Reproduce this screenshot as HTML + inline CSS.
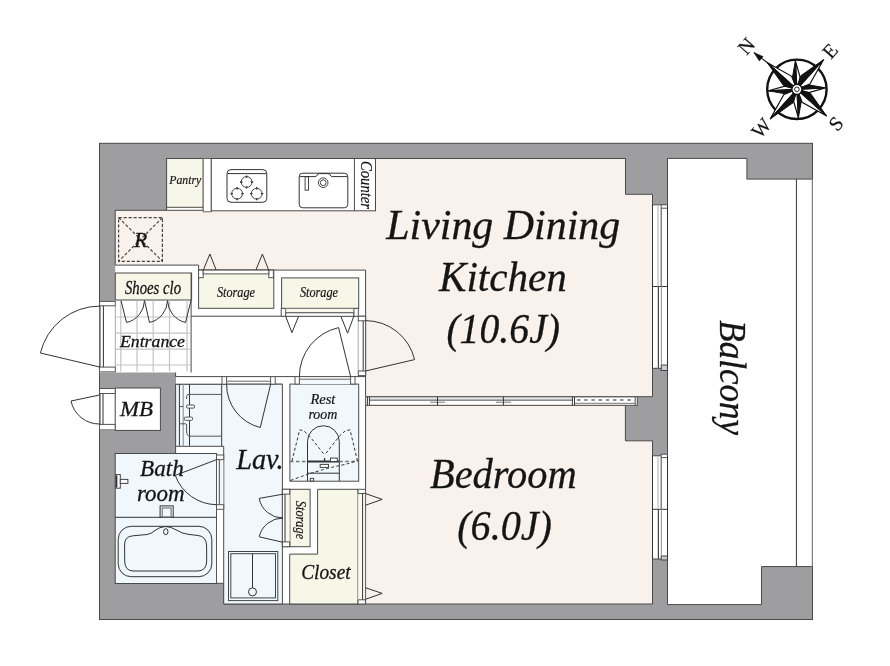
<!DOCTYPE html>
<html><head><meta charset="utf-8">
<style>
html,body{margin:0;padding:0;background:#fff;width:890px;height:666px;overflow:hidden}
svg{display:block;will-change:transform}
text{font-family:"Liberation Serif",serif;font-style:italic;fill:#151515}
</style></head><body>
<svg width="890" height="666" viewBox="0 0 890 666">
<g id="walls" stroke="#4a4a4a" stroke-width="1">
  <rect x="99.5" y="143.3" width="713" height="476.2" fill="#9e9ea0"/>
  <polygon points="115.2,265 365.7,265 365.7,604 175.6,604 175.6,372.5 115.2,372.5" fill="#fff" stroke="none"/>
  <rect x="115.2" y="583.5" width="108.5" height="20.5" fill="#9e9ea0" stroke="none"/>
  <path d="M175.6,372.5 V453.5 M216.5,583.3 H223.7 V604 H365" fill="none"/>
  <!-- entrance frame gap -->
  <rect x="99.5" y="301.4" width="16" height="71.2" fill="#fff" stroke="none"/>
  <rect x="99.5" y="388" width="16" height="42.4" fill="#fff" stroke="none"/>
  <!-- LDK -->
  <polygon points="115.2,210.3 166.6,210.3 166.6,158.5 625.5,158.5 625.5,194.3 652.5,194.3 652.5,396.7 365.6,396.7 365.6,270.1 198.6,270.1 198.6,265.1 115.2,265.1" fill="#f9f1ec"/>
  <!-- Bedroom -->
  <polygon points="365.6,405.3 625.4,405.3 625.4,440.8 652.5,440.8 652.5,604 365.6,604" fill="#f9f1ec"/>
  <!-- Balcony -->
  <polygon points="667.5,158.4 746.9,158.4 746.9,179.1 812.4,179.1 812.4,566.6 761.5,566.6 761.5,604.6 667.5,604.6" fill="#fff"/>
  <!-- window areas -->
  <rect x="652.5" y="204.8" width="15" height="163.5" fill="#fff"/>
  <rect x="652.5" y="455.8" width="15" height="103.2" fill="#fff"/>
  <!-- pantry / counter -->
  <rect x="166.6" y="158.5" width="36.6" height="51.8" fill="#fff"/>
  <rect x="166.6" y="158.5" width="36.6" height="48.8" fill="#f7f7e9"/>
  <rect x="203.2" y="158.5" width="8.1" height="53.3" fill="#fff" stroke="#666"/>
  <rect x="211.3" y="158.5" width="164.2" height="52.3" fill="#fff"/>
  <line x1="354.4" y1="158.5" x2="354.4" y2="210.8"/>
  <!-- shoes clo -->
  <rect x="115.3" y="273" width="76.3" height="27" fill="#f7f7e8"/>
  <!-- storage 1 & 2 -->
  <rect x="198.6" y="270.1" width="75.2" height="38.2" fill="#f7f7e8"/>
  <rect x="281.6" y="277.9" width="77.1" height="30.5" fill="#f7f7e8"/>
  <path d="M115.3,305.8 V367.1" fill="none" stroke="#aaa"/>
  <path d="M191.1,273 V372.5 M191.1,316.2 H365.6" fill="none"/>
  <!-- MB -->
  <rect x="115.2" y="388" width="45.2" height="42.4" fill="#fff"/>
  <!-- washer area -->
  <rect x="175.6" y="384.2" width="46.2" height="62.1" fill="#f0f7fd"/>
  <rect x="175.6" y="376.6" width="183" height="7.6" fill="#fff" stroke="none"/>
  <path d="M175.6,376.6 H365.6 M175.6,384.2 H282.2"/>
  <!-- Lav -->
  <polygon points="221.7,384.2 282.4,384.2 282.4,604 223.7,604 223.7,446.3 221.7,446.3" fill="#f0f7fd"/>
  <!-- Bath -->
  <rect x="115.2" y="453.5" width="101.3" height="130" fill="#f0f7fd"/>
  <!-- Rest room -->
  <rect x="289.9" y="384.1" width="68.8" height="97.1" fill="#f0f7fd"/>
  <!-- storage vertical -->
  <rect x="289.7" y="489.3" width="20.4" height="57.4" fill="#f7f7e8"/>
  <!-- closet -->
  <polygon points="317.6,489.3 358,489.3 358,604 289.7,604 289.7,554.1 317.6,554.1" fill="#f7f7e8"/>
</g>

<g id="details" fill="none" stroke="#333" stroke-width="1">
  <!-- tile grid -->
  <g stroke="#c4c4c4" stroke-width="1.2">
    <path d="M120.8,300.5 V371.5 M137,300.5 V371.5 M153.2,300.5 V371.5 M169.5,300.5 V371.5 M187,300.5 V371.5 M115.5,317 H191 M115.5,333.2 H191 M115.5,349.2 H191 M115.5,365 H191"/>
  </g>
  <!-- entrance frame -->
  <rect x="99.5" y="301.4" width="15.8" height="4.4" fill="#fff" stroke="#555"/>
  <rect x="99.5" y="367.1" width="15.8" height="4.8" fill="#fff" stroke="#555"/>
  <path d="M100,305.8 V367.1 M103.4,305.8 V367.1"/>
  <path d="M100,367.1 L40.4,353 A61,61 0 0 1 100,306.1"/>
  <!-- MB door -->
  <rect x="99.5" y="388.5" width="15.7" height="5" fill="#fff" stroke="#555"/>
  <rect x="99.5" y="424.4" width="15.7" height="5.5" fill="#fff" stroke="#555"/>
  <path d="M100,393.5 V424.4 M103,393.5 V424.4"/>
  <path d="M99.6,395 L71,401 A29,29 0 0 0 99.6,424"/>
  <!-- shoe closet doors -->
  <path d="M121,300.5 L126.5,322.5 A23,23 0 0 0 144.5,300.5 L149.5,322.5 A23,23 0 0 0 167.5,300.5 A23.5,23.5 0 0 0 185.5,322.5 L191,300.5"/>
  <!-- storage 1 doors (into LDK) -->
  <rect x="198.6" y="270.1" width="4.6" height="7.6" fill="#fff" stroke="#555"/>
  <rect x="268.8" y="270.1" width="4.6" height="7.6" fill="#fff" stroke="#555"/>
  <rect x="203.2" y="270.1" width="65.6" height="3.8" fill="#fff" stroke="#555"/>
  <path d="M203.3,270.1 L209.9,254 L216.2,270.1 M255.9,270.1 L262.4,254 L268.7,270.1"/>
  <!-- storage 2 doors (into corridor) -->
  <rect x="281.2" y="308.4" width="4.5" height="7.9" fill="#fff" stroke="#555"/>
  <rect x="353.8" y="308.4" width="4.5" height="7.9" fill="#fff" stroke="#555"/>
  <rect x="285.7" y="308.4" width="68.1" height="4.4" fill="#f9f9ee" stroke="#777"/>
  <rect x="285.7" y="312.8" width="68.1" height="3.5" fill="#fff" stroke="#555"/>
  <path d="M285.7,316.3 L291.9,332.7 L298.6,316.3 M340.9,316.3 L347.6,333.2 L353.8,316.3"/>
  <!-- LDK door -->
  <rect x="358.3" y="316.3" width="7.3" height="59.3" fill="#fff" stroke="none"/>
  <line x1="358.2" y1="320.8" x2="358.2" y2="371" stroke="#aaa"/>
  <line x1="365.6" y1="316.3" x2="365.6" y2="376" stroke="#555"/>
  <rect x="358.3" y="316.3" width="7.3" height="4.5" fill="#fff" stroke="#555"/>
  <rect x="358.3" y="371" width="7.3" height="4.6" fill="#fff" stroke="#555"/>
  <line x1="363.2" y1="320.8" x2="363.2" y2="371"/>
  <path d="M365.5,371 L414.6,359.6 A50.5,50.5 0 0 0 365.5,320.6"/>
  <!-- rest room door -->
  <rect x="299.4" y="379.2" width="51.2" height="4.9" fill="#f0f7fd" stroke="none"/>
  <line x1="299.4" y1="379.2" x2="350.6" y2="379.2" stroke="#666"/>
  <rect x="295" y="376.6" width="4.4" height="7.5" fill="#fff" stroke="#555"/>
  <rect x="350.6" y="376.6" width="4.4" height="7.5" fill="#fff" stroke="#555"/>
  
  <path d="M350.6,376.6 L338.6,327.6 A50,50 0 0 0 299.4,376.6"/>
  <!-- lav door -->
  <rect x="222" y="376.6" width="4.6" height="7.6" fill="#fff" stroke="#555"/>
  <rect x="270.6" y="376.6" width="4.6" height="7.6" fill="#fff" stroke="#555"/>
  <line x1="226.6" y1="381.2" x2="270.6" y2="381.2" stroke="#666"/>
  <path d="M270.6,384.3 L260.3,427.5 A44,44 0 0 1 226.6,384.3"/>
  <!-- bath door -->
  <rect x="216.5" y="455" width="7.2" height="54.3" fill="#fff" stroke="none"/>
  <rect x="219.3" y="459.6" width="4.4" height="45.1" fill="#f0f7fd" stroke="none"/>
  <line x1="216.5" y1="453.5" x2="216.5" y2="583.5" stroke="#555"/>
  <line x1="223.7" y1="455" x2="223.7" y2="509.3" stroke="#999"/>
  <rect x="216.5" y="455" width="7.2" height="4.6" fill="#fff" stroke="#555"/>
  <rect x="216.5" y="504.7" width="7.2" height="4.6" fill="#fff" stroke="#555"/>
  <line x1="219.3" y1="459.6" x2="219.3" y2="504.7" stroke="#444"/>
  <path d="M216.7,459.6 L175.3,475.4 A44.5,44.5 0 0 0 216.7,504.7"/>
  <!-- storage vertical doors -->
  <rect x="282.4" y="489.3" width="7.3" height="57.4" fill="#fff" stroke="#555"/>
  <rect x="285" y="494.1" width="4.7" height="47.8" fill="#f9f9ee" stroke="none"/>
  <rect x="282.4" y="489.3" width="7.3" height="4.8" fill="#fff" stroke="#555"/>
  <rect x="282.4" y="541.9" width="7.3" height="4.8" fill="#fff" stroke="#555"/>
  <line x1="285" y1="494.1" x2="285" y2="541.9"/>
  <path d="M283,494.2 L259.2,498.4 A24,24 0 0 0 283,518 M283,542.3 L259.2,536.8 A24.3,24.3 0 0 1 283,518"/>
  <!-- closet doors -->
  <rect x="358" y="489.3" width="7.4" height="114.7" fill="#fff" stroke="none"/>
  <line x1="365.4" y1="489.3" x2="365.4" y2="604" stroke="#666"/>
  <rect x="358" y="493.5" width="4.6" height="106.3" fill="#f9f9ee" stroke="none"/>
  <rect x="358" y="489.3" width="7.4" height="4.2" fill="#fff" stroke="#555"/>
  <rect x="358" y="599.8" width="7.4" height="4.2" fill="#fff" stroke="#555"/>
  <line x1="362.6" y1="493.5" x2="362.6" y2="599.8"/>
  <line x1="357.8" y1="493.5" x2="357.8" y2="599.8" stroke="#aaa"/>
  <path d="M365.4,493.5 L382.2,499.4 L365.4,505.3 M365.4,587.7 L382.2,593.4 L365.4,599.3"/>
  <!-- partition -->
  <rect x="365.6" y="396.9" width="271.7" height="8.4" fill="#fff" stroke="#555"/>
  <path d="M369.4,400.1 H572.4" stroke="#666" stroke-width="1.2"/>
  <path d="M369.4,398.1 H572.4" stroke="#ccc" stroke-width="0.8"/>
  <path d="M430,402.2 H445 M496,402.2 H511" stroke="#777" stroke-width="1"/>
  <path d="M367.4,396.9 V405.3 M369.4,396.9 V405.3 M437.5,396.9 V405.3 M503.4,396.9 V405.3 M572.4,396.9 V405.3 M574.5,396.9 V405.3"/>
  <path d="M577,400.1 H635" stroke="#6a6a6a" stroke-width="1.5" stroke-dasharray="3.4,3.8"/>
  <path d="M574.5,403.3 H635" stroke="#777" stroke-width="1"/>
  <rect x="635.2" y="396.9" width="2.1" height="8.4" fill="#fff" stroke="#555"/>
  <!-- LDK window -->
  <rect x="661.2" y="204.8" width="6.3" height="3.4" fill="#fff" stroke="#555"/>
  <rect x="661.2" y="365" width="6.3" height="5.5" fill="#ccc" stroke="#444"/>
  <path d="M652.5,204.8 V368.3 M667.5,204.8 V368.3 M652.5,286.5 H667.5"/>
  <path d="M658,204.8 V286.5" stroke="#bbb" stroke-width="1.2"/>
  <path d="M661.2,208.2 V286.5" stroke="#666" stroke-width="1.2"/>
  <path d="M658.4,286.5 V368.3" stroke="#444" stroke-width="1.2"/>
  <path d="M661.4,286.5 V365" stroke="#999" stroke-width="1.1"/>
  <!-- bedroom window -->
  <rect x="661.2" y="454.2" width="6.3" height="3.4" fill="#fff" stroke="#555"/>
  <rect x="661.2" y="556" width="6.3" height="4" fill="#ccc" stroke="#444"/>
  <path d="M652.5,455.8 V559 M667.5,455.8 V559 M652.5,509.3 H667.5"/>
  <path d="M658,457 V509.3" stroke="#bbb" stroke-width="1.2"/>
  <path d="M661.2,457.6 V509.3" stroke="#666" stroke-width="1.2"/>
  <path d="M658.4,509.3 V559" stroke="#444" stroke-width="1.2"/>
  <path d="M661.4,509.3 V556" stroke="#999" stroke-width="1.1"/>
  <!-- balcony rail -->
  <path d="M796.4,179.1 V566.6" stroke="#333"/>
  <path d="M812.4,179.1 V566.6" stroke="#888"/>
</g>

<g id="fixtures" fill="none" stroke="#333" stroke-width="1">
  <!-- cooktop -->
  <rect x="227" y="169.6" width="39.8" height="32.7" rx="4"/>
  <path d="M227.3,173.6 H266.5"/>
  <g stroke-width="0.9">
    <circle cx="246.6" cy="182" r="5.4"/>
    <circle cx="237.1" cy="193.7" r="5.4"/>
    <circle cx="256.7" cy="193.7" r="5.4"/>
  </g>
  <path d="M246.6,175.4 v2.4 M246.6,186.2 v2.4 M240.0,182.0 h2.4 M250.8,182.0 h2.4 M237.1,187.1 v2.4 M237.1,197.9 v2.4 M230.5,193.7 h2.4 M241.3,193.7 h2.4 M256.7,187.1 v2.4 M256.7,197.9 v2.4 M250.1,193.7 h2.4 M260.9,193.7 h2.4" stroke-width="1.3"/>
  <!-- sink -->
  <rect x="299.2" y="173.2" width="48.6" height="34.6" rx="3.5"/>
  <path d="M299.5,176.6 H315.2 Q316.6,176.6 317.2,175 Q317.8,173.6 319.4,173.6 H328 Q329.6,173.6 330.2,175 Q330.8,176.6 332.2,176.6 H347.5" stroke-width="1"/>
  <rect x="305.1" y="176.7" width="3.4" height="13.5" stroke-width="0.9"/>
  <circle cx="323.2" cy="182.7" r="4.8" stroke-width="0.9"/>
  <circle cx="323.2" cy="182.7" r="2.9" stroke-width="0.9"/>
  <!-- R box -->
  <g stroke="#444" stroke-width="1.2" stroke-dasharray="3.1,1.9">
    <rect x="118.6" y="217.6" width="43.8" height="43.7"/>
    <path d="M118.6,217.6 L162.4,261.3 M162.4,217.6 L118.6,261.3"/>
  </g>
  <!-- washer -->
  <path d="M179.4,384.3 V445.8 M189.5,384.3 V445.8"/>
  <path d="M183.2,384.3 V445.8" stroke="#888"/>
  <path d="M186.6,399 V396.5 Q186.6,394.4 189,394.4 H221.5 M186.6,424 L186.6,432 Q187,436.2 190,436.2 H221.5" stroke="#555"/>
  <rect x="186.6" y="405" width="7.9" height="3.1" rx="1" fill="#fff" stroke="#555"/>
  <rect x="184.4" y="417.1" width="8.1" height="3.2" rx="1" fill="#fff" stroke="#555"/>
  <path d="M179.4,406.5 H183.2 M179.4,423.8 H186" stroke="#555"/>
  <!-- bath faucet -->
  <rect x="115.8" y="474.6" width="4.5" height="13.6" fill="#fff" stroke="#444"/>
  <rect x="120.3" y="479.4" width="7.6" height="4" fill="#fff" stroke="#444"/>
  <path d="M116.6,475.5 V487.5" stroke="#333" stroke-width="1.5"/>
  <!-- bath divider -->
  <path d="M115.2,517.3 H216.5"/>
  <rect x="160.1" y="505.9" width="13.1" height="11.4"/>
  <rect x="162.2" y="508" width="8.9" height="9.3" stroke="#666"/>
  <!-- tub -->
  <rect x="118.2" y="526.3" width="93.6" height="50.4" rx="13"/>
  <path d="M124.6,546 Q124,536.3 133,535.8 L147,534.5 Q151,534 155,530.5 Q159.5,526.8 165.5,526.5 Q171,526.8 176,529.8 Q182,533.6 188,534.3 L198,535.5 Q206.5,536.3 206.6,546 L206.7,561 Q206.6,570.6 198,571 L133,571 Q124.7,570.6 124.7,561 Z"/>
  <ellipse cx="165.8" cy="531.7" rx="2.2" ry="3"/>
  <!-- shower tray -->
  <rect x="228.5" y="551.5" width="49.3" height="49.1" stroke="#444"/>
  <rect x="230.8" y="553.7" width="44.7" height="44.2" stroke="#444"/>
  <path d="M252.5,553.7 V587.8"/>
  <circle cx="252.5" cy="591.9" r="4"/>
  <!-- toilet -->
  <path d="M307.5,481 V441.6 A15.9,15.9 0 0 1 339.3,441.6 V481"/>
  <path d="M307.5,473.2 H339.3"/>
  <path d="M307.5,461.5 H339.3" stroke-width="2"/>
  <path d="M290,461.5 H307.5 M339.3,461.5 H358" stroke="#777" stroke-width="1.5" stroke-dasharray="3.5,2.5"/>
  <rect x="330.5" y="458.1" width="6.8" height="3.4" fill="#fff" stroke="#444"/>
  <rect x="320.2" y="464.4" width="8.3" height="3" fill="#fff" stroke="#444"/>
  <rect x="310.3" y="478.4" width="3.3" height="2.6" fill="#fff" stroke="#444"/>
  <path d="M324.6,458 V461.5" stroke-width="1.3"/>
  <g stroke="#333" stroke-dasharray="3,2.3" stroke-width="1">
    <path d="M292,461 L299.7,429.8 L304,431 L309,435.5 L324.6,455"/>
    <path d="M357.5,461 L350,429.8 L345,431 L339.5,436 L324.6,455"/>
    <path d="M290.5,480.5 Q318,470 340,465.5 Q352,463 358,460"/>
  </g>
</g>
<g id="compass">
<circle cx="796.90" cy="89.30" r="29.7" fill="#fff" stroke="#111" stroke-width="2.4"/>
<path d="M796.90,89.30 L795.41,60.84 L800.14,77.23 Z M796.90,89.30 L823.67,59.57 L809.88,84.06 Z M796.90,89.30 L825.36,87.81 L808.97,92.54 Z M796.90,89.30 L826.63,116.07 L802.14,102.28 Z M796.90,89.30 L798.39,117.76 L793.66,101.37 Z M796.90,89.30 L770.13,119.03 L783.92,94.54 Z M796.90,89.30 L768.44,90.79 L784.83,86.06 Z M796.90,89.30 L767.17,62.53 L791.66,76.32 Z" fill="#fff" stroke="#111" stroke-width="1.2" stroke-linejoin="miter"/>
<path d="M796.90,89.30 L792.42,77.63 L795.41,60.84 Z M796.90,89.30 L800.76,75.84 L823.67,59.57 Z M796.90,89.30 L808.57,84.82 L825.36,87.81 Z M796.90,89.30 L810.36,93.16 L826.63,116.07 Z M796.90,89.30 L801.38,100.97 L798.39,117.76 Z M796.90,89.30 L793.04,102.76 L770.13,119.03 Z M796.90,89.30 L785.23,93.78 L768.44,90.79 Z M796.90,89.30 L783.44,85.44 L767.17,62.53 Z" fill="#111" stroke="#111" stroke-width="1"/>
<line x1="767.17" y1="62.53" x2="753.94" y2="52.61" stroke="#111" stroke-width="1.1"/>
<path d="M753.94,52.61 L759.31,61.08 L763.15,56.59 Z" fill="#111" stroke="#111" stroke-width="0.5"/>
<circle cx="796.90" cy="89.30" r="5.1" fill="#fff" stroke="#111" stroke-width="1.5"/>
<circle cx="796.90" cy="89.30" r="2.3" fill="#fff" stroke="#111" stroke-width="0.9"/>
<text x="0" y="0" transform="translate(746.2,46.0) rotate(-48)" text-anchor="middle" dominant-baseline="central" style="font-style:normal;font-size:20px;stroke:#111;stroke-width:0.15">N</text>
<text x="0" y="0" transform="translate(830.0,50.9) rotate(-48)" text-anchor="middle" dominant-baseline="central" style="font-style:normal;font-size:20px;stroke:#111;stroke-width:0.15">E</text>
<text x="0" y="0" transform="translate(761.0,127.8) rotate(-48)" text-anchor="middle" dominant-baseline="central" style="font-style:normal;font-size:20px;stroke:#111;stroke-width:0.15">W</text>
<text x="0" y="0" transform="translate(835.7,123.4) rotate(-48)" text-anchor="middle" dominant-baseline="central" style="font-style:normal;font-size:20px;stroke:#111;stroke-width:0.15">S</text>
</g>

<g id="labels">
  <text id="t_pantry" x="169.3" y="183.7" font-size="13" textLength="32" lengthAdjust="spacingAndGlyphs" style="stroke:#151515;stroke-width:0.2">Pantry</text>
  <text id="t_counter" transform="translate(360.8,161) rotate(90)" x="0" y="0" font-size="16.5" textLength="48" lengthAdjust="spacingAndGlyphs" style="stroke:#151515;stroke-width:0.2">Counter</text>
  <text id="t_r" x="134.3" y="247.3" font-size="20" textLength="13" lengthAdjust="spacingAndGlyphs" style="stroke:#151515;stroke-width:0.35">R</text>
  <text id="t_shoes" x="125" y="293.9" font-size="18" textLength="56" lengthAdjust="spacingAndGlyphs" style="stroke:#151515;stroke-width:0.3">Shoes clo</text>
  <text id="t_st1" x="217" y="296.8" font-size="14.5" textLength="38" lengthAdjust="spacingAndGlyphs" style="stroke:#151515;stroke-width:0.2">Storage</text>
  <text id="t_st2" x="300" y="296.8" font-size="14.5" textLength="38" lengthAdjust="spacingAndGlyphs" style="stroke:#151515;stroke-width:0.2">Storage</text>
  <text id="t_entr" x="120" y="346.6" font-size="17.5" textLength="65" lengthAdjust="spacingAndGlyphs" style="stroke:#151515;stroke-width:0.3">Entrance</text>
  <text id="t_mb" x="120" y="415.6" font-size="20.5" textLength="33" lengthAdjust="spacingAndGlyphs" style="stroke:#151515;stroke-width:0.3">MB</text>
  <text id="t_bath" x="140" y="476.1" font-size="22.5" textLength="43.7" lengthAdjust="spacingAndGlyphs" style="stroke:#151515;stroke-width:0.3">Bath</text>
  <text id="t_room1" x="137" y="501" font-size="22.5" textLength="47.6" lengthAdjust="spacingAndGlyphs" style="stroke:#151515;stroke-width:0.3">room</text>
  <text id="t_lav" x="236.2" y="469.1" font-size="29" textLength="47.5" lengthAdjust="spacingAndGlyphs" style="stroke:#151515;stroke-width:0.3">Lav.</text>
  <text id="t_rest" x="310.4" y="404.3" font-size="15" textLength="25" lengthAdjust="spacingAndGlyphs" style="stroke:#151515;stroke-width:0.2">Rest</text>
  <text id="t_room2" x="308.4" y="419.2" font-size="14.5" textLength="29" lengthAdjust="spacingAndGlyphs" style="stroke:#151515;stroke-width:0.2">room</text>
  <text id="t_st3" transform="translate(296,500.8) rotate(90)" x="0" y="0" font-size="14.5" textLength="38.3" lengthAdjust="spacingAndGlyphs" style="stroke:#151515;stroke-width:0.2">Storage</text>
  <text id="t_closet" x="301.2" y="578.9" font-size="21.5" textLength="49.4" lengthAdjust="spacingAndGlyphs" style="stroke:#151515;stroke-width:0.3">Closet</text>
  <text id="t_balc" transform="translate(720.4,320.3) rotate(90)" x="0" y="0" font-size="37.5" textLength="114.8" lengthAdjust="spacingAndGlyphs" style="stroke:#151515;stroke-width:0.3">Balcony</text>
  <text id="t_ldk1" x="386.2" y="238.5" font-size="42" textLength="234" lengthAdjust="spacingAndGlyphs" style="stroke:#151515;stroke-width:0.3">Living Dining</text>
  <text id="t_ldk2" x="439" y="290.5" font-size="42" textLength="127.8" lengthAdjust="spacingAndGlyphs" style="stroke:#151515;stroke-width:0.3">Kitchen</text>
  <text id="t_ldk3" x="446.4" y="342.5" font-size="42" textLength="113.6" lengthAdjust="spacingAndGlyphs" style="stroke:#151515;stroke-width:0.3">(10.6J)</text>
  <text id="t_bed1" x="430" y="488.2" font-size="42" textLength="146.6" lengthAdjust="spacingAndGlyphs" style="stroke:#151515;stroke-width:0.3">Bedroom</text>
  <text id="t_bed2" x="457.2" y="539.8" font-size="42" textLength="94.8" lengthAdjust="spacingAndGlyphs" style="stroke:#151515;stroke-width:0.3">(6.0J)</text>
</g>
</svg>
</body></html>
